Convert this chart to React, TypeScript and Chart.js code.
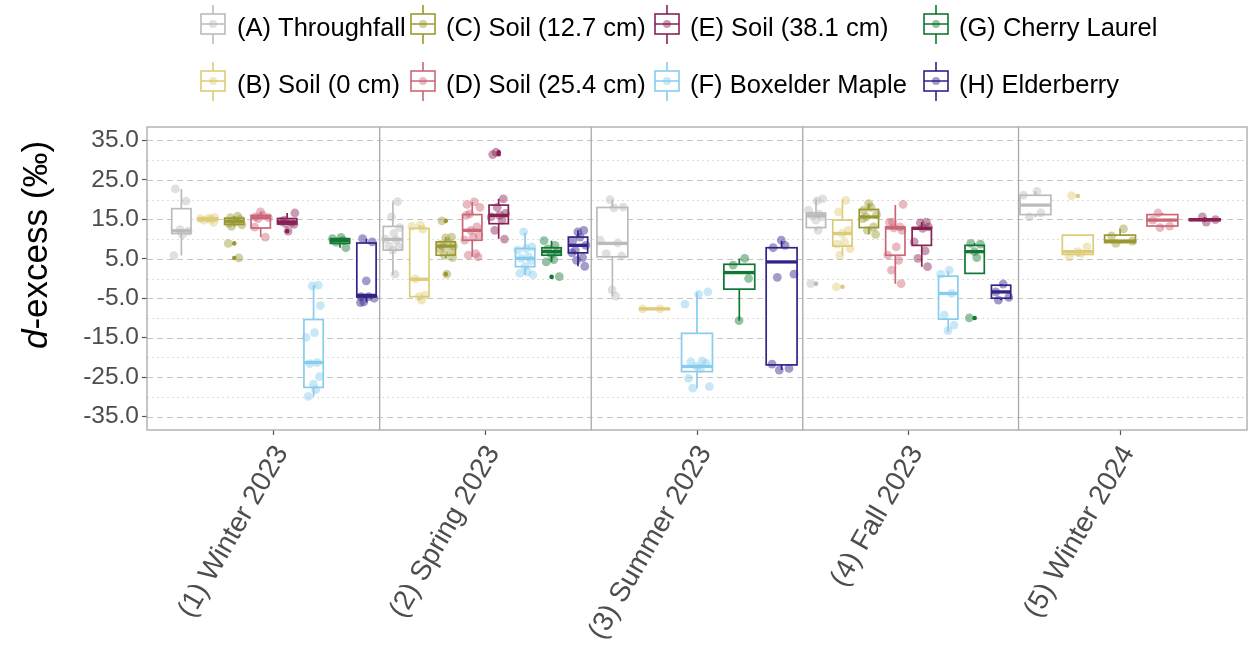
import React, { useEffect, useRef } from "react";
import { Chart, registerables } from "chart.js";
Chart.register(...registerables);

// ---------- categories & labels ----------
const seasons = ["(1) Winter 2023", "(2) Spring 2023", "(3) Summer 2023", "(4) Fall 2023", "(5) Winter 2024"];
const seasonTicks = [1, 2, 3, 4, 5];
const separators = [1.5, 2.5, 3.5, 4.52];
const yTicks = [35, 25, 15, 5, -5, -15, -25, -35];
const yMinor = [30, 20, 10, 0, -10, -20, -30];
const groupNames = [
  "(A) Throughfall", "(B) Soil (0 cm)", "(C) Soil (12.7 cm)", "(D) Soil (25.4 cm)",
  "(E) Soil (38.1 cm)", "(F) Boxelder Maple", "(G) Cherry Laurel", "(H) Elderberry",
];

// ---------- data: box stats [lower whisker, Q1, median, Q3, upper whisker] per season ----------
const throughfallBox = [[5.8, 11.4, 12.1, 17.7, 22.7], [0.9, 7.2, 9.9, 13.2, 19.5], [-4.5, 5.5, 8.9, 18.0, 20.0], [12.2, 12.9, 15.9, 16.6, 20.2], [15.6, 16.2, 18.6, 21.1, 22.1]];
const throughfallPts = [[22.7, 19.6, 12.4, 12.0, 11.1, 5.8], [19.5, 15.6, 12.9, 11.4, 10.0, 9.7, 8.2, 8.0, 7.2, 1.1], [20.0, 18.1, 17.9, 9.7, 9.0, 6.3, 5.7, -2.9, -4.5], [20.2, 19.7, 17.3, 16.3, 15.9, 15.6, 14.8, 12.2, -1.3], [22.1, 21.1, 16.6, 15.6]];
const throughfallOut = [[], [], [], [-1.3], []];

const soil0Box = [[14.2, 14.7, 15.0, 15.3, 15.5], [-5.5, -4.6, -0.2, 12.7, 13.5], [-7.7, -7.7, -7.7, -7.7, -7.7], [5.9, 8.2, 11.4, 14.8, 20.0], [5.5, 6.1, 6.8, 11.0, 11.0]];
const soil0Pts = [[15.5, 15.3, 15.2, 15.0, 14.8, 14.2], [13.5, 13.2, 12.5, -0.1, -4.2, -4.6, -5.5], [-7.7, -7.7], [19.8, 16.9, 12.2, 11.4, 9.3, 8.7, 7.6, 5.9, -2.1], [21.0, 8.0, 6.8, 6.3, 5.5]];
const soil0Out = [[], [], [], [-2.1], [20.9]];

const soil127Box = [[13.2, 13.7, 14.5, 15.3, 15.8], [5.1, 5.9, 8.2, 9.3, 10.5], null, [11.2, 12.9, 15.6, 17.5, 19.0], [8.9, 9.1, 9.5, 11.0, 12.6]];
const soil127Pts = [[15.8, 15.4, 15.0, 14.7, 14.4, 14.0, 13.6, 13.2, 8.9, 5.2], [14.6, 10.5, 10.3, 9.3, 8.6, 8.2, 8.0, 7.4, 6.8, 5.9, 5.3, 1.1], [], [19.0, 18.0, 17.3, 16.2, 15.6, 15.2, 13.1, 12.2, 11.2], [12.6, 10.8, 9.5, 8.9]];
const soil127Out = [[8.9, 5.2], [14.6, 1.1], [], [], []];

const soil254Box = [[10.5, 12.8, 15.4, 16.0, 16.9], [5.5, 9.7, 12.2, 16.2, 19.4], null, [-1.3, 5.9, 12.8, 13.1, 18.6], [12.9, 13.3, 14.8, 16.2, 16.6]];
const soil254Pts = [[16.9, 16.0, 15.6, 15.4, 15.2, 13.0, 10.5], [19.4, 18.8, 18.0, 16.4, 16.0, 13.1, 12.2, 11.0, 10.5, 9.7, 6.3, 5.9, 5.5], [], [18.8, 14.3, 14.3, 13.1, 12.8, 12.2, 8.0, 5.9, 4.6, 2.1, -1.3], [16.6, 14.8, 13.3, 12.9]];
const soil254Out = [[], [], [], [], []];

const soil381Box = [[13.7, 13.8, 14.3, 15.2, 16.6], [10.1, 13.9, 16.0, 18.6, 20.2], null, [3.0, 8.4, 12.7, 12.9, 14.3], [14.3, 14.7, 14.9, 15.1, 15.6]];
const soil381Pts = [[16.6, 14.8, 14.5, 14.2, 13.9, 13.7, 12.0], [32.0, 31.4, 20.2, 18.0, 16.5, 16.0, 15.6, 14.8, 12.2, 10.0], [], [14.3, 14.1, 13.1, 12.7, 9.3, 7.0, 5.1, 3.0], [15.6, 14.9, 14.3]];
const soil381Out = [[12.0], [32.0, 31.5], [], [], []];

const boxelderBox = [[-29.9, -27.6, -21.3, -10.4, -1.7], [0.9, 3.0, 5.1, 7.6, 11.6], [-27.8, -23.6, -22.3, -13.9, -3.5], [-13.5, -10.3, -3.8, 0.6, 1.9], null];
const boxelderPts = [[-1.7, -1.9, -6.9, -13.7, -14.9, -21.3, -21.6, -24.9, -26.8, -28.2, -29.9], [11.8, 8.0, 7.6, 7.2, 5.5, 5.1, 4.5, 3.0, 1.7, 1.3, 0.9], [-3.4, -4.0, -6.5, -20.9, -21.1, -21.5, -22.3, -22.8, -25.3, -27.4, -27.8], [2.1, 1.1, -3.8, -9.3, -11.8, -13.2], []];
const boxelderOut = [[], [], [], [], []];

const cherryBox = [[7.8, 8.9, 9.6, 10.1, 10.4], [4.2, 5.9, 6.8, 7.8, 9.6], [-10.7, -2.7, 1.5, 3.6, 5.1], [1.3, 1.3, 6.8, 8.4, 9.0], null];
const cherryPts = [[10.4, 10.1, 9.6, 9.2, 7.8], [9.6, 8.4, 7.5, 6.8, 6.2, 4.8, 4.2, 0.5], [5.1, 3.4, 0.0, -10.7], [8.9, 8.7, 6.8, 5.3, -10.0], []];
const cherryOut = [[], [0.4], [], [-10.0], []];

const elderberryBox = [[-6.1, -4.7, -4.3, 9.0, 10.1], [3.1, 6.5, 8.4, 10.5, 12.2], [-23.2, -21.9, 4.2, 7.8, 9.6], [-5.5, -5.0, -3.4, -1.7, -1.4], null];
const elderberryPts = [[10.1, 9.3, -0.6, -4.6, -4.6, -5.0, -5.9, -6.1], [12.2, 11.8, 10.5, 9.6, 8.4, 7.2, 6.5, 5.3, 4.6, 3.1], [9.7, 8.4, 7.8, 1.1, 0.3, -21.7, -22.8, -23.2], [-1.4, -3.4, -4.8, -5.5], []];
const elderberryOut = [[], [], [], [], []];

const allBoxes = [throughfallBox, soil0Box, soil127Box, soil254Box, soil381Box, boxelderBox, cherryBox, elderberryBox];
const allPts = [throughfallPts, soil0Pts, soil127Pts, soil254Pts, soil381Pts, boxelderPts, cherryPts, elderberryPts];
const allOut = [throughfallOut, soil0Out, soil127Out, soil254Out, soil381Out, boxelderOut, cherryOut, elderberryOut];

// ---------- style ----------
const COLORS = ["#BBBBBB", "#DDCC77", "#999933", "#CC6677", "#882255", "#88CCEE", "#117733", "#332288"];
const FONT = '"Liberation Sans", Arial, Helvetica, sans-serif';
const JITTER = [-0.62, 0.48, -0.15, 0.7, 0.1, -0.78, 0.35, -0.4, 0.6, -0.02, 0.22, -0.55, 0.8, -0.28];
const BOX_FRAC = 0.73;

function rgba(hex: string, a: number) {
  const n = parseInt(hex.slice(1), 16);
  return `rgba(${(n >> 16) & 255},${(n >> 8) & 255},${n & 255},${a})`;
}

// dodge: centre and slot width for group g in season s
function dodge(s: number, g: number) {
  const present: number[] = [];
  allBoxes.forEach((b, i) => { if (b[s]) present.push(i); });
  const n = present.length;
  const k = present.indexOf(g);
  const slot = 1 / n;
  return { center: s + 1 + (k - (n - 1) / 2) * slot, slot };
}

const boxPlugin = {
  id: "boxLayer",
  beforeDatasetsDraw(chart: any) {
    const { ctx, chartArea: ca, scales } = chart;
    const x = scales.x, y = scales.y;
    ctx.save();
    ctx.lineWidth = 1;
    ctx.strokeStyle = "#dcdcdc";
    ctx.setLineDash([2, 3]);
    yMinor.forEach((v) => {
      const py = Math.round(y.getPixelForValue(v)) + 0.5;
      ctx.beginPath(); ctx.moveTo(ca.left, py); ctx.lineTo(ca.right, py); ctx.stroke();
    });
    ctx.strokeStyle = "#c4c4c4";
    ctx.setLineDash([6, 4]);
    yTicks.forEach((v) => {
      const py = Math.round(y.getPixelForValue(v)) + 0.5;
      ctx.beginPath(); ctx.moveTo(ca.left, py); ctx.lineTo(ca.right, py); ctx.stroke();
    });
    ctx.setLineDash([]);
    ctx.strokeStyle = "#a8a8a8";
    ctx.lineWidth = 1.3;
    separators.forEach((v) => {
      const px = x.getPixelForValue(v);
      ctx.beginPath(); ctx.moveTo(px, ca.top); ctx.lineTo(px, ca.bottom); ctx.stroke();
    });
    for (let s = 0; s < seasons.length; s++) {
      for (let g = 0; g < allBoxes.length; g++) {
        const st = allBoxes[g][s];
        if (!st) continue;
        const { center, slot } = dodge(s, g);
        const cx = x.getPixelForValue(center);
        const half = x.getPixelForValue(center + (slot * BOX_FRAC) / 2) - cx;
        const [lo, q1, med, q3, hi] = st.map((v: number) => y.getPixelForValue(v));
        ctx.strokeStyle = COLORS[g];
        ctx.lineWidth = 1.7;
        ctx.beginPath();
        ctx.moveTo(cx, hi); ctx.lineTo(cx, q3);
        ctx.moveTo(cx, q1); ctx.lineTo(cx, lo);
        ctx.stroke();
        ctx.fillStyle = "#ffffff";
        ctx.fillRect(cx - half, q3, half * 2, q1 - q3);
        ctx.strokeRect(cx - half, q3, half * 2, q1 - q3);
        ctx.lineWidth = 3.3;
        ctx.beginPath(); ctx.moveTo(cx - half, med); ctx.lineTo(cx + half, med); ctx.stroke();
      }
    }
    ctx.restore();
  },
  afterDatasetsDraw(chart: any) {
    const { ctx, chartArea: ca } = chart;
    ctx.save();
    ctx.strokeStyle = "#a8a8a8";
    ctx.lineWidth = 1.3;
    ctx.strokeRect(ca.left, ca.top, ca.right - ca.left, ca.bottom - ca.top);
    ctx.restore();
  },
  afterDraw(chart: any) {
    const { ctx } = chart;
    ctx.save();
    const size = 35;
    ctx.fillStyle = "#000";
    ctx.textBaseline = "middle";
    ctx.textAlign = "left";
    ctx.font = `italic ${size}px ${FONT}`;
    const wd = ctx.measureText("d").width;
    ctx.font = `${size}px ${FONT}`;
    const rest = "-excess (‰)";
    const wr = ctx.measureText(rest).width;
    ctx.translate(37, 245);
    ctx.rotate(-Math.PI / 2);
    const start = -(wd + wr) / 2;
    ctx.font = `italic ${size}px ${FONT}`;
    ctx.fillText("d", start, 0);
    ctx.font = `${size}px ${FONT}`;
    ctx.fillText(rest, start + wd, 0);
    ctx.restore();

    // legend
    const iconX = [201, 411, 655, 924];
    const textX = [237, 446, 690, 959];
    const rowC = [24, 81];
    const rowBase = [36, 93];
    ctx.save();
    ctx.font = `25.5px ${FONT}`;
    ctx.textBaseline = "alphabetic";
    ctx.textAlign = "left";
    groupNames.forEach((name, i) => {
      const col = Math.floor(i / 2), row = i % 2;
      const x0 = iconX[col], cy = rowC[row];
      const c = COLORS[i];
      ctx.strokeStyle = c;
      ctx.lineWidth = 1.6;
      ctx.beginPath();
      ctx.moveTo(x0 + 12, cy - 19); ctx.lineTo(x0 + 12, cy - 10);
      ctx.moveTo(x0 + 12, cy + 10); ctx.lineTo(x0 + 12, cy + 20);
      ctx.moveTo(x0, cy); ctx.lineTo(x0 + 24, cy);
      ctx.stroke();
      ctx.strokeRect(x0, cy - 10, 24, 20);
      ctx.fillStyle = rgba(c, 0.45);
      ctx.beginPath(); ctx.arc(x0 + 12, cy, 4, 0, Math.PI * 2); ctx.fill();
      ctx.fillStyle = "#000";
      ctx.fillText(name, textX[col], rowBase[row]);
    });
    ctx.restore();
  },
};

export default function App() {
  const ref = useRef<HTMLCanvasElement | null>(null);
  useEffect(() => {
    if (!ref.current) return;
    const datasets: any[] = [];
    for (let g = 0; g < allBoxes.length; g++) {
      const pts: any[] = [];
      const outs: any[] = [];
      for (let s = 0; s < seasons.length; s++) {
        if (!allBoxes[g][s]) continue;
        const { center, slot } = dodge(s, g);
        const half = (slot * BOX_FRAC) / 2;
        allPts[g][s].forEach((v: number, j: number) => {
          pts.push({ x: center + JITTER[(j + g * 3 + s) % JITTER.length] * half, y: v });
        });
        allOut[g][s].forEach((v: number) => outs.push({ x: center, y: v }));
      }
      datasets.push({
        label: groupNames[g] + " outliers",
        data: outs,
        pointRadius: 2.3,
        pointBackgroundColor: COLORS[g],
        pointBorderWidth: 0,
        order: 2,
      });
      datasets.push({
        label: groupNames[g],
        data: pts,
        pointRadius: 4.4,
        pointBackgroundColor: rgba(COLORS[g], 0.45),
        pointBorderWidth: 0,
        order: 1,
      });
    }
    const chart = new Chart(ref.current, {
      type: "scatter",
      data: { datasets },
      plugins: [boxPlugin],
      options: {
        animation: false,
        responsive: true,
        maintainAspectRatio: false,
        events: [],
        layout: { padding: { top: 127, right: 2, left: 0, bottom: 0 }, autoPadding: false },
        plugins: { legend: { display: false }, tooltip: { enabled: false } },
        scales: {
          x: {
            type: "linear",
            min: 0.4,
            max: 5.6,
            afterBuildTicks: (s: any) => { s.ticks = seasonTicks.map((v) => ({ value: v })); },
            afterFit: (s: any) => { s.height = 215; },
            ticks: {
              autoSkip: false,
              minRotation: 60,
              maxRotation: 60,
              padding: 5,
              labelOffset: 8,
              color: "#4d4d4d",
              font: { family: FONT, size: 28 },
              callback: (v: any) => seasons[Math.round(v) - 1],
            },
            grid: { drawOnChartArea: false, drawTicks: true, tickLength: 5, tickColor: "#555", tickWidth: 1.2 },
            border: { display: false },
          },
          y: {
            type: "linear",
            min: -38.4,
            max: 38.4,
            afterBuildTicks: (s: any) => { s.ticks = yTicks.map((v) => ({ value: v })); },
            afterFit: (s: any) => { s.width = 147; },
            ticks: {
              padding: 3,
              color: "#4d4d4d",
              font: { family: FONT, size: 24.5 },
              callback: (v: any) => Number(v).toFixed(1),
            },
            grid: { drawOnChartArea: false, drawTicks: true, tickLength: 5, tickColor: "#555", tickWidth: 1.2 },
            border: { display: false },
          },
        },
      } as any,
    });
    return () => chart.destroy();
  }, []);
  return (
    <div style={{ position: "fixed", left: 0, top: 0, width: 1249, height: 645, background: "#fff" }}>
      <canvas ref={ref} />
    </div>
  );
}
